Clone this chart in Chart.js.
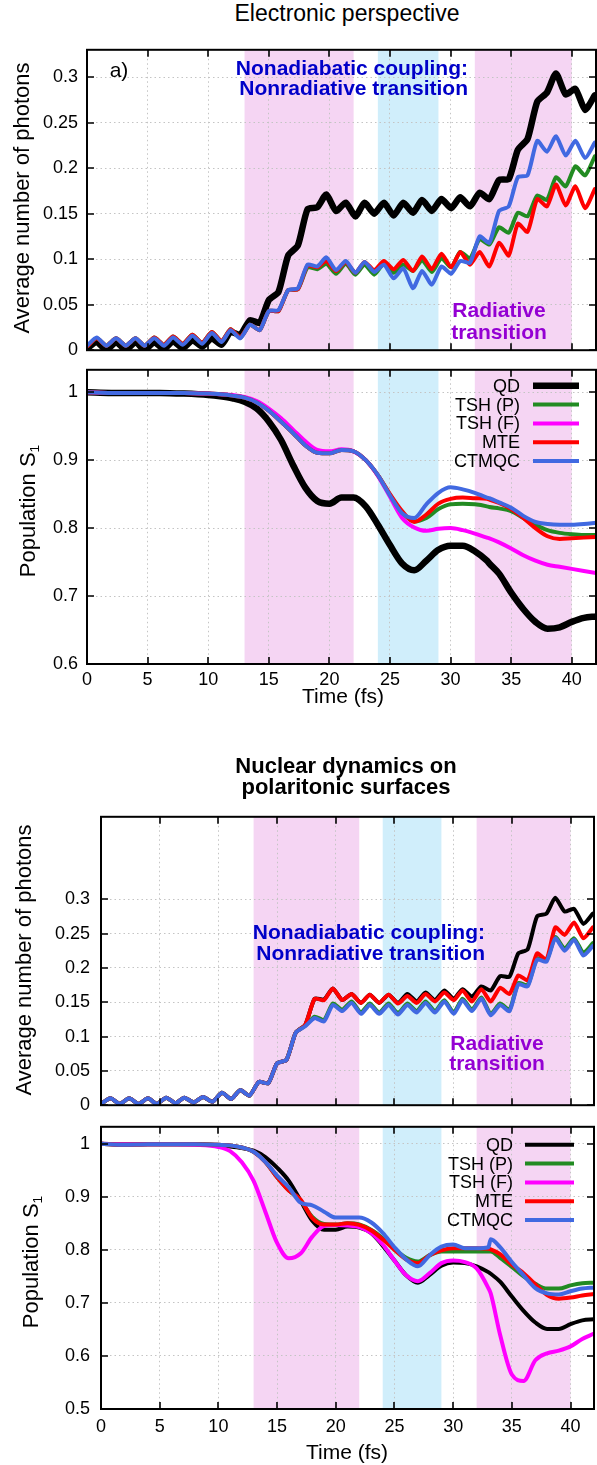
<!DOCTYPE html>
<html>
<head>
<meta charset="utf-8">
<script src="https://cdn.jsdelivr.net/npm/chart.js@4.4.0/dist/chart.umd.min.js"></script>
<style>
  html, body { margin: 0; padding: 0; background: #fff; }
  body { width: 597px; height: 1465px; position: relative; overflow: hidden;
         font-family: "Liberation Sans", Arial, Helvetica, sans-serif; color: #000; }
  canvas { position: absolute; left: 0; z-index: 1; }
  .t { position: absolute; z-index: 5; white-space: nowrap; line-height: 1; transform: translate(-50%, -50%); }
  .r { transform: translate(-100%, -50%); text-align: right; }
  .c { text-align: center; }
  .v { transform: translate(-50%, -50%) rotate(-90deg); }
  .nac { color: #0000c8; font-weight: bold; font-size: 21px; }
  .rad { color: #9400d3; font-weight: bold; font-size: 21px; }
  sub { font-size: 0.62em; vertical-align: -0.3em; line-height: 1; }
</style>
</head>
<body>

<div class="t" style="left:347px; top:13px; font-size:23px;">Electronic perspective</div>
<div class="t" style="left:119px; top:69px; font-size:21px;">a)</div>
<div class="t r nac" style="left:468px; top:78px; line-height:20px;">Nonadiabatic coupling:<br>Nonradiative transition</div>
<div class="t c rad" style="left:499px; top:321px; line-height:22px;">Radiative<br>transition</div>
<div class="t v" style="left:22px; top:198px; font-size:22px;">Average number of photons</div>
<div class="t v" style="left:29px; top:511px; font-size:22px;">Population S<sub>1</sub></div>
<div class="t" style="left:343px; top:695px; font-size:21px;">Time (fs)</div>

<div class="t c" style="left:346px; top:776px; font-size:22px; font-weight:bold; line-height:21px;">Nuclear dynamics on<br>polaritonic surfaces</div>
<div class="t r nac" style="left:485px; top:942px; line-height:21px;">Nonadiabatic coupling:<br>Nonradiative transition</div>
<div class="t c rad" style="left:497px; top:1053px; line-height:20px;">Radiative<br>transition</div>
<div class="t v" style="left:24px; top:960px; font-size:22px;">Average number of photons</div>
<div class="t v" style="left:32px; top:1262px; font-size:22px;">Population S<sub>1</sub></div>
<div class="t" style="left:347px; top:1451px; font-size:21px;">Time (fs)</div>

<canvas id="topPhoton" width="597" height="340" style="top:30px"></canvas>
<canvas id="topPop" width="597" height="345" style="top:350px"></canvas>
<canvas id="botPhoton" width="597" height="332" style="top:795px"></canvas>
<canvas id="botPop" width="597" height="340" style="top:1105px"></canvas>

<script>
// shaded time windows (fs)
const bandStart = [13, 24, 32];
const bandEnd = [22, 29, 40];
const bandKind = ['radiative', 'nonadiabatic', 'radiative'];

const seriesNames = ['QD', 'TSH (P)', 'TSH (F)', 'MTE', 'CTMQC'];

// photon number: sampled at the peaks / troughs of the fast oscillation
const photonTime = [0, 0.8, 1.6, 2.4, 3.2, 4.0, 4.75, 5.55, 6.35, 7.1, 7.9, 8.7, 9.5, 10.3, 11.1, 11.85, 12.65, 13.45,
  14.25, 15.0, 15.8, 16.6, 17.4, 18.2, 19.0, 19.75, 20.55, 21.35, 22.15, 22.9, 23.7, 24.5, 25.3, 26.1, 26.9, 27.65,
  28.45, 29.25, 30.05, 30.8, 31.6, 32.4, 33.2, 34.0, 34.8, 35.55, 36.35, 37.15, 37.95, 38.7, 39.5, 40.3, 41.1, 41.9];

const topPhotonQD = [0.002, 0.009, 0.0, 0.009, 0.0, 0.009, 0.0, 0.009, 0.001, 0.010, 0.002, 0.011, 0.004, 0.013, 0.006,
  0.020, 0.017, 0.033, 0.030, 0.055, 0.064, 0.104, 0.115, 0.155, 0.157, 0.171, 0.153, 0.162, 0.147, 0.162, 0.150, 0.162,
  0.148, 0.162, 0.151, 0.165, 0.153, 0.166, 0.156, 0.168, 0.158, 0.173, 0.166, 0.187, 0.188, 0.220, 0.232, 0.273, 0.283,
  0.304, 0.281, 0.287, 0.264, 0.280];
const topPhotonTSHP = [0.004, 0.013, 0.005, 0.013, 0.005, 0.013, 0.005, 0.014, 0.006, 0.015, 0.007, 0.017, 0.008, 0.020,
  0.010, 0.023, 0.014, 0.028, 0.022, 0.043, 0.043, 0.066, 0.067, 0.091, 0.089, 0.095, 0.084, 0.095, 0.083, 0.094, 0.083,
  0.095, 0.085, 0.094, 0.087, 0.099, 0.086, 0.101, 0.091, 0.108, 0.101, 0.122, 0.116, 0.135, 0.129, 0.151, 0.147, 0.170,
  0.165, 0.190, 0.180, 0.202, 0.192, 0.213];
const topPhotonMTE = [0.004, 0.013, 0.005, 0.013, 0.005, 0.013, 0.005, 0.014, 0.006, 0.015, 0.007, 0.017, 0.008, 0.020,
  0.010, 0.023, 0.014, 0.028, 0.022, 0.043, 0.043, 0.066, 0.067, 0.093, 0.091, 0.098, 0.087, 0.097, 0.085, 0.097, 0.088,
  0.098, 0.089, 0.099, 0.087, 0.103, 0.089, 0.106, 0.091, 0.108, 0.094, 0.108, 0.092, 0.118, 0.104, 0.139, 0.130, 0.166,
  0.158, 0.182, 0.159, 0.180, 0.156, 0.177];
const topPhotonCTMQC = [0.005, 0.014, 0.005, 0.013, 0.005, 0.013, 0.005, 0.013, 0.005, 0.014, 0.006, 0.016, 0.007, 0.019,
  0.009, 0.022, 0.013, 0.028, 0.022, 0.043, 0.044, 0.066, 0.068, 0.094, 0.092, 0.102, 0.088, 0.098, 0.085, 0.097, 0.086,
  0.094, 0.079, 0.090, 0.068, 0.087, 0.072, 0.092, 0.084, 0.098, 0.096, 0.125, 0.118, 0.153, 0.158, 0.190, 0.192, 0.230,
  0.218, 0.235, 0.214, 0.230, 0.211, 0.228];

const botPhotonQD = [0.002, 0.010, 0.002, 0.010, 0.002, 0.010, 0.002, 0.011, 0.003, 0.011, 0.004, 0.012, 0.005, 0.018,
  0.009, 0.022, 0.014, 0.034, 0.032, 0.061, 0.066, 0.106, 0.117, 0.155, 0.154, 0.170, 0.153, 0.162, 0.149, 0.161, 0.149,
  0.161, 0.149, 0.162, 0.151, 0.164, 0.153, 0.167, 0.155, 0.169, 0.158, 0.173, 0.167, 0.188, 0.187, 0.221, 0.227, 0.275,
  0.279, 0.302, 0.282, 0.286, 0.264, 0.279];
const botPhotonTSHP = [0.002, 0.010, 0.002, 0.010, 0.002, 0.010, 0.002, 0.011, 0.003, 0.011, 0.004, 0.012, 0.005, 0.018,
  0.009, 0.022, 0.014, 0.034, 0.032, 0.061, 0.066, 0.106, 0.116, 0.129, 0.124, 0.148, 0.139, 0.151, 0.135, 0.148, 0.135,
  0.148, 0.134, 0.148, 0.137, 0.151, 0.137, 0.153, 0.135, 0.155, 0.139, 0.157, 0.133, 0.148, 0.139, 0.178, 0.175, 0.214,
  0.211, 0.245, 0.228, 0.243, 0.222, 0.236];
const botPhotonMTE = [0.002, 0.010, 0.002, 0.010, 0.002, 0.010, 0.002, 0.011, 0.003, 0.011, 0.004, 0.012, 0.005, 0.018,
  0.009, 0.022, 0.014, 0.034, 0.032, 0.061, 0.066, 0.106, 0.117, 0.155, 0.153, 0.170, 0.153, 0.162, 0.149, 0.161, 0.149,
  0.161, 0.148, 0.159, 0.149, 0.162, 0.151, 0.164, 0.153, 0.167, 0.151, 0.169, 0.151, 0.171, 0.162, 0.189, 0.182, 0.221,
  0.212, 0.259, 0.248, 0.266, 0.243, 0.259];
const botPhotonCTMQC = [0.002, 0.010, 0.002, 0.010, 0.002, 0.010, 0.002, 0.011, 0.003, 0.011, 0.004, 0.012, 0.005, 0.018,
  0.009, 0.022, 0.014, 0.034, 0.032, 0.061, 0.066, 0.106, 0.115, 0.127, 0.122, 0.146, 0.137, 0.149, 0.133, 0.146, 0.133,
  0.146, 0.132, 0.146, 0.135, 0.149, 0.135, 0.151, 0.133, 0.153, 0.137, 0.155, 0.131, 0.146, 0.137, 0.176, 0.173, 0.212,
  0.209, 0.243, 0.225, 0.241, 0.218, 0.232];

// S1 population
const popTime = [0, 2, 4, 6, 8, 10, 11, 12, 13, 14, 15, 16, 17, 18, 19, 20, 21, 22, 23, 24, 25, 26, 27, 28, 29, 30,
  31, 32, 33, 33.2, 34, 35, 36, 37, 38, 39, 40, 41, 42];

const topPopQD = [1.0, 0.999, 0.999, 0.999, 0.998, 0.996, 0.994, 0.991, 0.986, 0.976, 0.957, 0.93, 0.893, 0.86, 0.84,
  0.836, 0.845, 0.845, 0.832, 0.805, 0.775, 0.748, 0.738, 0.752, 0.768, 0.774, 0.774, 0.766, 0.752, 0.748, 0.733, 0.705,
  0.681, 0.662, 0.652, 0.654, 0.662, 0.668, 0.67];
const topPopTSHP = [1.0, 0.999, 0.999, 0.999, 0.999, 0.998, 0.997, 0.995, 0.992, 0.985, 0.973, 0.957, 0.94, 0.922, 0.911,
  0.91, 0.915, 0.913, 0.9, 0.878, 0.849, 0.823, 0.81, 0.815, 0.828, 0.835, 0.836, 0.835, 0.832, 0.831, 0.829, 0.825,
  0.815, 0.805, 0.797, 0.793, 0.791, 0.79, 0.79];
const topPopTSHF = [1.0, 0.999, 0.999, 0.999, 0.999, 0.998, 0.997, 0.996, 0.993, 0.987, 0.976, 0.962, 0.945, 0.928,
  0.915, 0.913, 0.916, 0.913, 0.9, 0.877, 0.846, 0.815, 0.801, 0.796, 0.799, 0.8, 0.797, 0.792, 0.786, 0.785, 0.779,
  0.77, 0.76, 0.752, 0.746, 0.743, 0.74, 0.737, 0.734];
const topPopMTE = [1.0, 0.999, 0.999, 0.999, 0.999, 0.998, 0.997, 0.995, 0.992, 0.985, 0.973, 0.957, 0.94, 0.922, 0.911,
  0.91, 0.915, 0.913, 0.9, 0.878, 0.85, 0.825, 0.809, 0.82, 0.836, 0.843, 0.845, 0.844, 0.843, 0.842, 0.837, 0.828,
  0.815, 0.8, 0.788, 0.784, 0.785, 0.786, 0.787];
const topPopCTMQC = [1.0, 0.999, 0.999, 0.999, 0.999, 0.998, 0.997, 0.995, 0.992, 0.985, 0.973, 0.957, 0.94, 0.922,
  0.911, 0.91, 0.915, 0.913, 0.9, 0.878, 0.848, 0.822, 0.815, 0.835, 0.852, 0.86, 0.857, 0.852, 0.845, 0.844, 0.838,
  0.83, 0.818, 0.809, 0.806, 0.805, 0.805, 0.806, 0.808];

const botPopQD = [1.0, 0.999, 0.999, 0.999, 0.999, 0.997, 0.995, 0.992, 0.987, 0.975, 0.955, 0.93, 0.893, 0.855, 0.838,
  0.838, 0.844, 0.842, 0.832, 0.808, 0.78, 0.752, 0.738, 0.753, 0.77, 0.776, 0.775, 0.769, 0.758, 0.755, 0.74, 0.712,
  0.685, 0.663, 0.651, 0.651, 0.66, 0.667, 0.669];
const botPopTSHP = [1.0, 0.998, 0.999, 0.999, 0.999, 0.998, 0.997, 0.993, 0.985, 0.966, 0.937, 0.912, 0.893, 0.862,
  0.849, 0.848, 0.85, 0.848, 0.838, 0.822, 0.802, 0.785, 0.778, 0.79, 0.797, 0.797, 0.797, 0.797, 0.797, 0.797, 0.785,
  0.768, 0.75, 0.736, 0.727, 0.727, 0.733, 0.737, 0.738];
const botPopTSHF = [1.0, 0.999, 0.999, 0.999, 0.998, 0.994, 0.986, 0.965, 0.93, 0.872, 0.813, 0.784, 0.793, 0.825,
  0.845, 0.847, 0.846, 0.843, 0.832, 0.81, 0.78, 0.752, 0.741, 0.756, 0.775, 0.78, 0.777, 0.765, 0.728, 0.718, 0.64,
  0.565, 0.553, 0.592, 0.605, 0.61, 0.618, 0.632, 0.642];
const botPopMTE = [1.0, 0.998, 0.999, 0.999, 0.999, 0.998, 0.997, 0.993, 0.985, 0.966, 0.937, 0.912, 0.895, 0.86,
  0.848, 0.848, 0.85, 0.847, 0.837, 0.82, 0.8, 0.782, 0.775, 0.79, 0.799, 0.803, 0.803, 0.803, 0.802, 0.801, 0.792,
  0.772, 0.756, 0.735, 0.715, 0.708, 0.71, 0.714, 0.717];
const botPopCTMQC = [1.0, 0.998, 0.999, 0.999, 0.999, 0.998, 0.997, 0.993, 0.985, 0.966, 0.94, 0.918, 0.889, 0.884,
  0.872, 0.861, 0.861, 0.861, 0.852, 0.832, 0.805, 0.782, 0.769, 0.79, 0.806, 0.81, 0.803, 0.803, 0.805, 0.82, 0.805,
  0.777, 0.752, 0.728, 0.718, 0.716, 0.722, 0.727, 0.729];

// styles
const seriesColor = { 'QD': '#000000', 'TSH (P)': '#228b22', 'TSH (F)': '#ff00ff', 'MTE': '#ff0000', 'CTMQC': '#4169e1' };
const bandFill = { radiative: '#f5d5f3', nonadiabatic: '#d0eefb' };
const gridColor = '#c4c4c4';

Chart.defaults.font.family = "'Liberation Sans', Arial, Helvetica, sans-serif";
Chart.defaults.font.size = 18;
Chart.defaults.color = '#000';

function ds(name, times, values, width, smooth) {
  return {
    label: name,
    data: values.map((v, i) => ({ x: times[i], y: v })),
    borderColor: seriesColor[name],
    borderWidth: width,
    pointRadius: 0,
    tension: smooth ? 0 : 0.2,
    cubicInterpolationMode: smooth ? 'monotone' : 'default',
    borderJoinStyle: 'round',
    borderCapStyle: 'round',
    clip: 0,
    order: seriesNames.length - 1 - seriesNames.indexOf(name)   // CTMQC drawn on top
  };
}

// shaded windows, frame with inward ticks, and the key
function decor(key) {
  return {
    id: 'decor',
    beforeDraw(chart) {
      const { ctx, chartArea: a, scales: { x } } = chart;
      ctx.save();
      for (let i = 0; i < bandStart.length; i++) {
        const x0 = x.getPixelForValue(bandStart[i]);
        const x1 = x.getPixelForValue(bandEnd[i]);
        ctx.fillStyle = bandFill[bandKind[i]];
        ctx.fillRect(x0, a.top, x1 - x0, a.bottom - a.top);
      }
      ctx.restore();
    },
    afterDraw(chart) {
      const { ctx, chartArea: a, scales: { x, y } } = chart;
      const len = 7;
      ctx.save();
      ctx.strokeStyle = '#000';
      ctx.lineWidth = 1.6;
      ctx.beginPath();
      x.ticks.forEach(t => {
        const px = Math.round(x.getPixelForValue(t.value));
        ctx.moveTo(px, a.bottom); ctx.lineTo(px, a.bottom - len);
        ctx.moveTo(px, a.top); ctx.lineTo(px, a.top + len);
      });
      y.ticks.forEach(t => {
        const py = Math.round(y.getPixelForValue(t.value));
        ctx.moveTo(a.left, py); ctx.lineTo(a.left + len, py);
        ctx.moveTo(a.right, py); ctx.lineTo(a.right - len, py);
      });
      ctx.stroke();
      ctx.lineWidth = 2;
      ctx.strokeRect(a.left, a.top, a.right - a.left, a.bottom - a.top);

      if (key) {
        ctx.font = "18px 'Liberation Sans', Arial, sans-serif";
        ctx.textAlign = 'right';
        ctx.textBaseline = 'middle';
        chart.data.datasets.forEach((d, i) => {
          const yy = a.top + key.top + i * key.row;
          const x1 = a.right - key.right;
          const x0 = x1 - key.len;
          ctx.fillStyle = '#000';
          ctx.fillText(d.label, x0 - key.gap, yy + 1);
          ctx.strokeStyle = d.borderColor;
          ctx.lineWidth = d.borderWidth;
          ctx.lineCap = 'butt';
          ctx.beginPath();
          ctx.moveTo(x0, yy); ctx.lineTo(x1, yy);
          ctx.stroke();
        });
      }
      ctx.restore();
    }
  };
}

function panel(id, datasets, p) {
  return new Chart(document.getElementById(id), {
    type: 'line',
    data: { datasets },
    options: {
      responsive: false,
      animation: false,
      events: [],
      layout: { padding: p.pad },
      plugins: { legend: { display: false }, tooltip: { enabled: false } },
      scales: {
        x: {
          type: 'linear', min: 0, max: 42,
          ticks: { stepSize: 5, includeBounds: false, display: p.xLabels, padding: p.xPad || 0, maxRotation: 0, autoSkip: false },
          grid: { color: gridColor, lineWidth: 1, drawTicks: false },
          border: { display: false, dash: [1.5, 3] },
          afterFit: s => { s.height = p.xHeight; }
        },
        y: {
          type: 'linear', min: p.yMin, max: p.yMax,
          ticks: { stepSize: p.yStep, includeBounds: false, padding: p.yPad, autoSkip: false,
                   callback: v => String(+Number(v).toFixed(2)) },
          grid: { color: gridColor, lineWidth: 1, drawTicks: false },
          border: { display: false, dash: [1.5, 3] },
          afterBuildTicks: s => { s.ticks = s.ticks.filter(t => t.value <= p.yTickMax + 1e-9); },
          afterFit: s => { s.width = p.yWidth; }
        }
      }
    },
    plugins: [decor(p.key)]
  });
}

// top figure: electronic perspective
panel('topPhoton', [
  ds('QD', photonTime, topPhotonQD, 6.5, false),
  ds('TSH (P)', photonTime, topPhotonTSHP, 4, false),
  ds('MTE', photonTime, topPhotonMTE, 4, false),
  ds('CTMQC', photonTime, topPhotonCTMQC, 4, false)
], { pad: { top: 8, right: 1, bottom: 12, left: 0 }, xLabels: false, xHeight: 0,
     yMin: 0, yMax: 0.33, yStep: 0.05, yTickMax: 0.3, yPad: 9, yWidth: 87 });

panel('topPop', [
  ds('QD', popTime, topPopQD, 6.5, true),
  ds('TSH (P)', popTime, topPopTSHP, 4, true),
  ds('TSH (F)', popTime, topPopTSHF, 4, true),
  ds('MTE', popTime, topPopMTE, 4, true),
  ds('CTMQC', popTime, topPopCTMQC, 4, true)
], { pad: { top: 8, right: 1, bottom: 5, left: 0 }, xLabels: true, xHeight: 26, xPad: 5,
     yMin: 0.6, yMax: 1.033, yStep: 0.1, yTickMax: 1, yPad: 9, yWidth: 87,
     key: { top: 16, row: 18.8, right: 17, len: 46, gap: 13 } });

// bottom figure: nuclear dynamics on polaritonic surfaces
panel('botPhoton', [
  ds('QD', photonTime, botPhotonQD, 4, false),
  ds('TSH (P)', photonTime, botPhotonTSHP, 4, false),
  ds('MTE', photonTime, botPhotonMTE, 4, false),
  ds('CTMQC', photonTime, botPhotonCTMQC, 4, false)
], { pad: { top: 10, right: 3, bottom: 12, left: 0 }, xLabels: false, xHeight: 0,
     yMin: 0, yMax: 0.42, yStep: 0.05, yTickMax: 0.3, yPad: 11, yWidth: 101 });

panel('botPop', [
  ds('QD', popTime, botPopQD, 4, true),
  ds('TSH (P)', popTime, botPopTSHP, 4, true),
  ds('TSH (F)', popTime, botPopTSHF, 4, true),
  ds('MTE', popTime, botPopMTE, 4, true),
  ds('CTMQC', popTime, botPopCTMQC, 4, true)
], { pad: { top: 10, right: 3, bottom: 8, left: 0 }, xLabels: true, xHeight: 28, xPad: 7,
     yMin: 0.5, yMax: 1.032, yStep: 0.1, yTickMax: 1, yPad: 11, yWidth: 101,
     key: { top: 18, row: 18.8, right: 20, len: 49, gap: 12 } });
</script>
</body>
</html>
